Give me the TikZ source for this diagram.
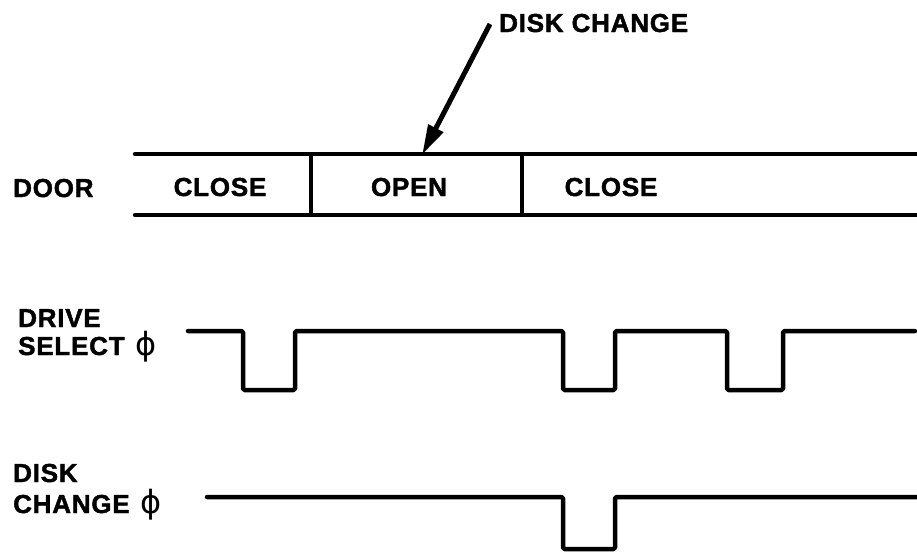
\documentclass[tikz,border=0pt]{standalone}
\usepackage{fontspec}
\setmainfont{Liberation Sans}[LetterSpace=3, BoldFeatures={FakeBold=1.6}]
\newfontfamily\phifont{DejaVu Sans}
\usetikzlibrary{arrows.meta}
\tikzset{
  lbl/.style={inner sep=0pt, font=\fontsize{26}{30}\selectfont\bfseries},
  bar/.style={line width=4.5pt, line cap=round},
  divider/.style={line width=4.5pt},
  wave/.style={line width=4.5pt, line join=round, line cap=round, rounded corners=1.5pt},
  pointer/.style={line width=5pt, -{Triangle[length=30pt,width=16pt]}, shorten >=-2pt}
}
\newcommand{\phisym}{\hspace{3pt}{\phifont\fontsize{32}{30}\selectfont\mdseries ϕ}}
\begin{document}
\begin{tikzpicture}[x=1pt,y=-1pt]
\useasboundingbox (0,0) rectangle (917,552);
% top label and arrow
\node[lbl, anchor=base west] (dclabel) at (499,32) {DISK CHANGE};
\coordinate (arrowstart) at (490,24);
\coordinate (arrowtip) at (423,153);
\draw[pointer] (arrowstart) -- (arrowtip);
% door bar
\node[lbl, anchor=base west] (door) at (13,197) {DOOR};
\draw[bar] (135,154) -- (917,154);
\draw[bar] (135,215) -- (917,215);
\draw[divider] (311,154) -- (311,215);
\draw[divider] (522,154) -- (522,215);
\node[lbl, anchor=base] (close1) at (220,196) {CLOSE};
\node[lbl, anchor=base] (open) at (409,196) {OPEN};
\node[lbl, anchor=base] (close2) at (611,196) {CLOSE};
% drive select
\node[lbl, anchor=base west] (drive) at (18,327) {DRIVE};
\node[lbl, anchor=base west] (select) at (18,355) {SELECT \phisym};
\draw[wave] (188,331) -- (243,331) -- (243,390) -- (295,390) -- (295,331)
  -- (563,331) -- (563,390) -- (615,390) -- (615,331)
  -- (727,331) -- (727,390) -- (783,390) -- (783,331) -- (915,331);
% disk change
\node[lbl, anchor=base west] (disk) at (13,482) {DISK};
\node[lbl, anchor=base west] (change) at (13,513) {CHANGE \phisym};
\draw[wave] (207,497) -- (563,497) -- (563,549) -- (615,549) -- (615,497) -- (917,497);
\end{tikzpicture}
\end{document}
